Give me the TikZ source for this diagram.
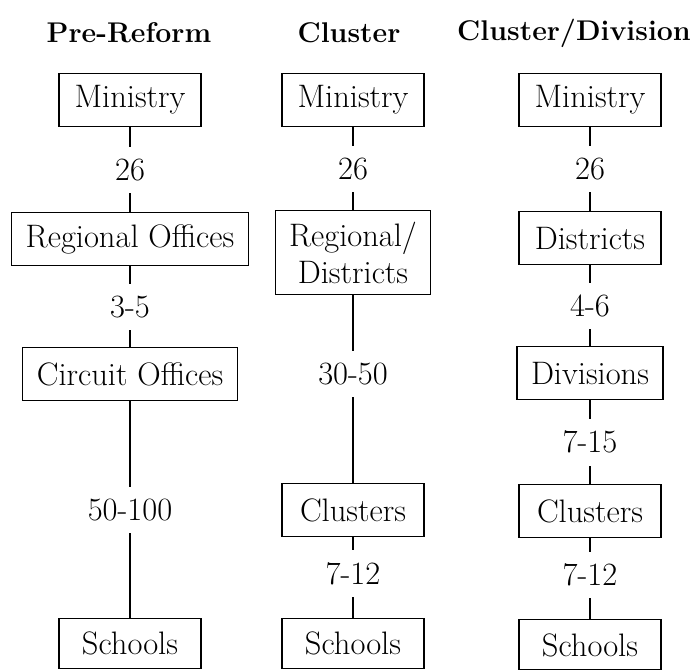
\documentclass[tikz,border=0pt]{standalone}
\usepackage{fontspec}
\usetikzlibrary{positioning}

\tikzset{
  unit/.style={draw, line width=1.1pt, align=center, minimum width=142pt,
    minimum height=53pt, inner xsep=14pt, inner ysep=9pt},
  ratio/.style={fill=white, inner xsep=2pt, inner ysep=12pt},
  hdr/.style={font=\fontsize{28.5}{33}\selectfont\bfseries},
  link/.style={line width=1.1pt}
}

\begin{document}
\begin{tikzpicture}[x=1pt, y=-1pt, font=\fontsize{32.5}{37}\selectfont]
  \useasboundingbox (0,0) rectangle (697,670);

  % headers
  \node[hdr] (h1) at (129,33) {Pre-Reform};
  \node[hdr] (h2) at (349,33) {Cluster};
  \node[hdr] (h3) at (574,33) {Cluster/Division};

  % pre-reform
  \node[unit] (min1) at (130,100) {Ministry};
  \node[unit, below=85pt of min1] (reg1) {Regional Offices};
  \node[unit, below=81pt of reg1] (cir1) {Circuit Offices};
  \node[unit, minimum height=50pt, below=217pt of cir1] (sch1) {Schools};

  % cluster
  \node[unit] (min2) at (353,100) {Ministry};
  \node[unit, minimum height=84pt, below=83pt of min2] (reg2) {Regional/\\Districts};
  \node[unit, below=188pt of reg2] (clu2) {Clusters};
  \node[unit, minimum height=50pt, below=81pt of clu2] (sch2) {Schools};

  % cluster/division
  \node[unit] (min3) at (590,100) {Ministry};
  \node[unit, below=84pt of min3] (dis3) {Districts};
  \node[unit, below=81pt of dis3] (div3) {Divisions};
  \node[unit, below=84pt of div3] (clu3) {Clusters};
  \node[unit, minimum height=50pt, below=81pt of clu3] (sch3) {Schools};

  \draw[link] (min1) -- node[ratio] {26} (reg1);
  \draw[link] (reg1) -- node[ratio] {3-5} (cir1);
  \draw[link] (cir1) -- node[ratio] {50-100} (sch1);

  \draw[link] (min2) -- node[ratio] {26} (reg2);
  \draw[link] (reg2) -- node[ratio, pos=0.42] {30-50} (clu2);
  \draw[link] (clu2) -- node[ratio, pos=0.45] {7-12} (sch2);

  \draw[link] (min3) -- node[ratio] {26} (dis3);
  \draw[link] (dis3) -- node[ratio] {4-6} (div3);
  \draw[link] (div3) -- node[ratio] {7-15} (clu3);
  \draw[link] (clu3) -- node[ratio, pos=0.45] {7-12} (sch3);
\end{tikzpicture}
\end{document}
